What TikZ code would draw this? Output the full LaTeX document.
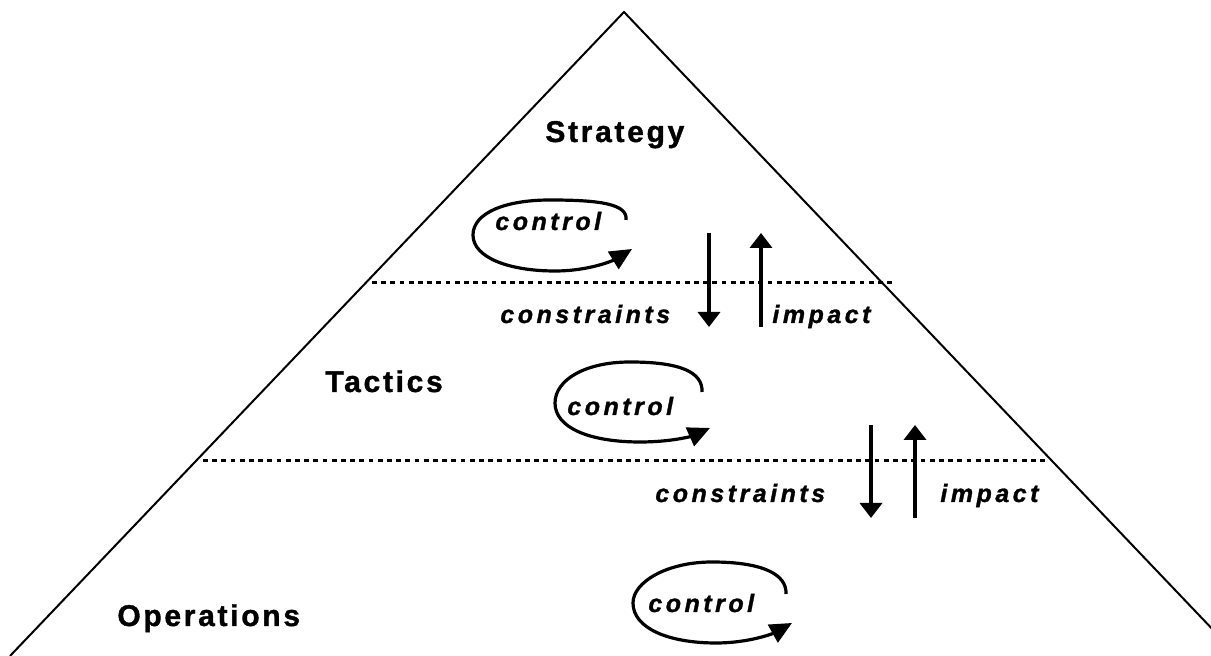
\documentclass[tikz,border=0pt]{standalone}
\usepackage{fontspec}
\usetikzlibrary{arrows.meta}
\newfontfamily\levelfont[LetterSpace=9, BoldFeatures={FakeBold=1.2}]{Liberation Sans}
\newfontfamily\flowfont[LetterSpace=14, BoldItalicFeatures={FakeBold=1.2}]{Liberation Sans}
\begin{document}
\begin{tikzpicture}[x=0.5pt,y=-0.5pt,
  level/.style={font=\levelfont\fontsize{15}{17}\selectfont\bfseries, anchor=base west, inner sep=0pt},
  flow/.style={font=\flowfont\fontsize{12.5}{15}\selectfont\bfseries\itshape, anchor=base west, inner sep=0pt},
  edge/.style={line width=1pt},
  divider/.style={line width=1.5pt, dash pattern=on 2.4pt off 2.2pt},
  vert/.style={line width=1.8pt, -{Triangle[length=7.5pt,width=11pt]}},
  loop/.style={line width=1.6pt, -{Triangle[length=11pt,width=10pt]}}]
\useasboundingbox (0,0) rectangle (1211,656);
\clip (0,0) rectangle (1211,656);

% pyramid outline
\coordinate (apex) at (624,12);
\coordinate (bl) at (10,656);
\coordinate (br) at (1238,656);
\draw[edge] (bl) -- (apex) -- (br);

% level dividers
\coordinate (d1a) at (372,283);
\coordinate (d1b) at (893,283);
\coordinate (d2a) at (203,461);
\coordinate (d2b) at (1045,461);
\draw[divider] (d1a) -- (d1b);
\draw[divider] (d2a) -- (d2b);

% level names
\node[level] (strategy) at (545,142) {Strategy};
\node[level] (tactics) at (325,392) {Tactics};
\node[level] (operations) at (117,626) {Operations};

% control loops round the word, each ending in an arrow
\node[flow] (c1) at (495,230) {control};
\node[flow] (c2) at (567,415) {control};
\node[flow] (c3) at (648,612) {control};
\coordinate (s1) at (626,220);  \coordinate (t1) at (632,249);
\coordinate (s2) at (702,392);  \coordinate (t2) at (710,428);
\coordinate (s3) at (786,594);  \coordinate (t3) at (792,623);
\draw[loop] (s1) .. controls (628,204) and (600,200) .. (550,200)
  .. controls (505,200) and (473,213) .. (473,235)
  .. controls (473,258) and (510,271) .. (555,271)
  .. controls (590,271) and (614,260) .. (t1);
\draw[loop] (s2) .. controls (703,372) and (680,362) .. (630,362)
  .. controls (585,362) and (555,380) .. (555,403)
  .. controls (555,428) and (590,442) .. (640,442)
  .. controls (672,442) and (692,436) .. (t2);
\draw[loop] (s3) .. controls (787,574) and (762,562) .. (712,562)
  .. controls (667,562) and (633,582) .. (633,603)
  .. controls (633,628) and (668,643) .. (716,643)
  .. controls (750,643) and (774,633) .. (t3);

% constraints and impact between strategy and tactics
\coordinate (a1t) at (709,233);
\coordinate (a1b) at (709,327);
\coordinate (b1b) at (761,327);
\coordinate (b1t) at (761,233);
\draw[vert] (a1t) -- (a1b);
\draw[vert] (b1b) -- (b1t);
\node[flow] (k1) at (500,323) {constraints};
\node[flow] (i1) at (772,323) {impact};

% constraints and impact between tactics and operations
\coordinate (a2t) at (871,425);
\coordinate (a2b) at (871,518);
\coordinate (b2b) at (915,518);
\coordinate (b2t) at (915,425);
\draw[vert] (a2t) -- (a2b);
\draw[vert] (b2b) -- (b2t);
\node[flow] (k2) at (655,502) {constraints};
\node[flow] (i2) at (940,502) {impact};
\end{tikzpicture}
\end{document}
